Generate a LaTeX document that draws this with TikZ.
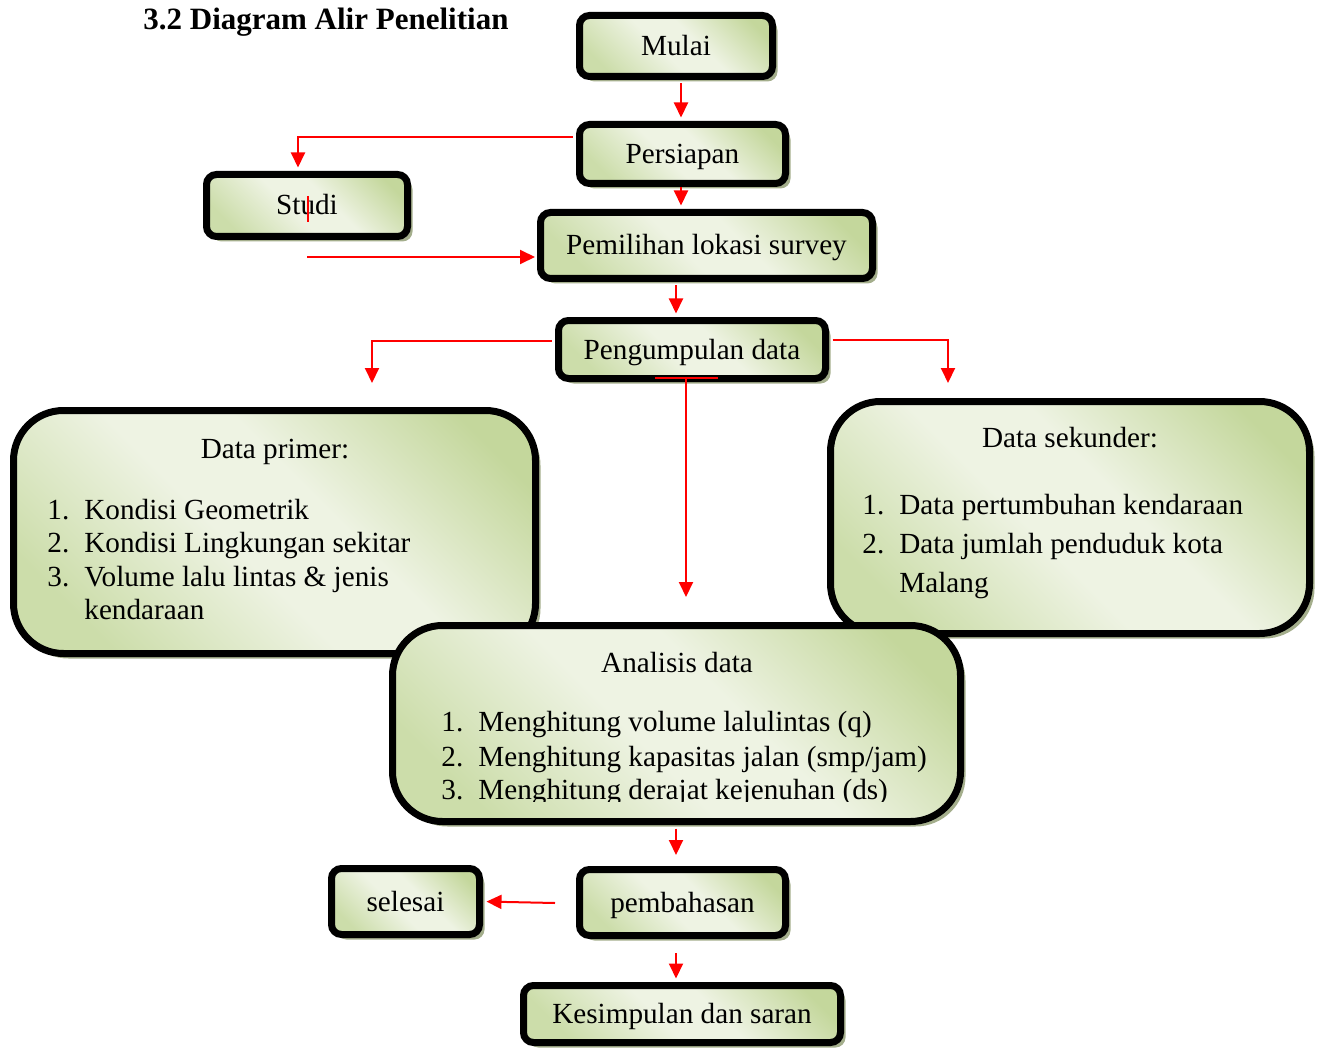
\documentclass[tikz,border=0pt]{standalone}
\usepackage{fontspec}
\setmainfont{Liberation Serif}
\usetikzlibrary{shadows,arrows.meta}
\definecolor{gA}{HTML}{C4D79C}
\definecolor{gB}{HTML}{CCDDAA}
\definecolor{gL}{HTML}{EEF3E3}
\definecolor{shd}{HTML}{A4AE8C}
\definecolor{rd}{HTML}{FF0000}
\pgfdeclarehorizontalshading{greenband}{100bp}{color(0bp)=(gB); color(24bp)=(gB); color(45bp)=(gL); color(57bp)=(gL); color(78bp)=(gA); color(100bp)=(gA)}
\newcommand\bodyfont{\fontsize{14.6}{18}\selectfont}
\newcommand\num[1]{\makebox[18.5pt][l]{#1}}
\begin{document}
\begin{tikzpicture}[x=0.5pt,y=-0.5pt,
  box/.style={draw=black, line width=3.5pt, rounded corners=5pt, shading=greenband, shading angle=45,
    drop shadow={shadow xshift=2.5pt, shadow yshift=-2.5pt, fill=shd, opacity=1},
    font=\bodyfont, inner sep=0pt, text height=10.5pt, text depth=1pt},
  bigbox/.style={box, rounded corners=25pt},
  txt/.style={font=\bodyfont, inner sep=0pt},
  conn/.style={draw=rd, line width=1pt, -{Triangle[width=7pt,length=7.5pt]}},
  plain/.style={draw=rd, line width=1pt},
  sh/.style={shorten <=1.75pt, shorten >=1.75pt}
]
\useasboundingbox (0,0) rectangle (1317,1048);

\node[txt, anchor=base west, font=\fontsize{15.5}{18}\selectfont\bfseries] (title) at (143,30) {3.2 Diagram Alir Penelitian};

% boxes
\node[box, minimum width=96.5pt, minimum height=30.5pt] (mulai) at (676,46) {Mulai};
\node[box, minimum width=103pt, minimum height=29.5pt] (persiapan) at (682.5,154) {Persiapan};
\node[box, minimum width=100.5pt, minimum height=31pt] (studi) at (307,205.5) {Studi};
\node[box, minimum width=166pt, minimum height=33pt] (pemilihan) at (706.5,245.5) {Pemilihan lokasi survey};
\node[box, minimum width=133.5pt, minimum height=29pt] (pengumpulan) at (692,349.5) {Pengumpulan data};

\node[bigbox, minimum width=261pt, minimum height=121.5pt] (primer) at (274.5,532) {};
\node[txt, anchor=base] (dp0) at (275,458) {Data primer:};
\node[txt, anchor=base west] (dp1) at (47,519) {\num{1.}Kondisi Geometrik};
\node[txt, anchor=base west] (dp2) at (47,552) {\num{2.}Kondisi Lingkungan sekitar};
\node[txt, anchor=base west] (dp3) at (47,586) {\num{3.}Volume lalu lintas \& jenis};
\node[txt, anchor=base west] (dp4) at (84,619) {kendaraan};

\node[bigbox, minimum width=239.5pt, minimum height=116pt] (sekunder) at (1070,517.5) {};
\node[txt, anchor=base] (ds0) at (1070,447) {Data sekunder:};
\node[txt, anchor=base west] (ds1) at (862,514) {\num{1.}Data pertumbuhan kendaraan};
\node[txt, anchor=base west] (ds2) at (862,553) {\num{2.}Data jumlah penduduk kota};
\node[txt, anchor=base west] (ds3) at (899,592) {Malang};

\node[bigbox, minimum width=284pt, minimum height=98pt] (analisis) at (676.5,723.5) {};
\node[txt, anchor=base] (da0) at (677,672) {Analisis data};
\node[txt, anchor=base west] (da1) at (441,731) {\num{1.}Menghitung volume lalulintas (q)};
\node[txt, anchor=base west] (da2) at (441,766) {\num{2.}Menghitung kapasitas jalan (smp/jam)};
\begin{scope}
\clip (400,700) rectangle (960,801);
\node[txt, anchor=base west] (da3) at (441,799) {\num{3.}Menghitung derajat kejenuhan (ds)};
\end{scope}

\node[box, minimum width=74pt, minimum height=33pt] (selesai) at (405.5,901.5) {selesai};
\node[box, minimum width=103pt, minimum height=33pt] (pembahasan) at (682.5,902.5) {pembahasan};
\node[box, minimum width=158.5pt, minimum height=28.5pt] (kesimpulan) at (682,1014) {Kesimpulan dan saran};

% free-end coordinates
\coordinate (s1) at (307,257);
\coordinate (st1) at (308,196);
\coordinate (st2) at (308,222);
\coordinate (pl) at (372,383);
\coordinate (pr) at (948,383);
\coordinate (pb1) at (655,378);
\coordinate (pb2) at (718,378);
\coordinate (pbm) at (686,378);
\coordinate (pa) at (686,597);
\coordinate (ae) at (676,855);
\coordinate (p1) at (555,903);
\coordinate (k1) at (676,953);

% connectors
\draw[conn, sh] (mulai.south -| 681,0) -- (persiapan.north -| 681,0);
\draw[conn, shorten <=0pt, shorten >=1.75pt] (persiapan.south -| 681,0) -- (pemilihan.north -| 681,0);
\draw[conn, sh] (persiapan.west |- 0,137) -| (298,0 |- studi.north);
\draw[draw=rd, line width=0.6pt] (st1) -- (st2);
\draw[conn, shorten >=1pt] (s1) -- (s1 -| pemilihan.west);
\draw[conn, sh] (676,0 |- pemilihan.south) -- (676,0 |- pengumpulan.north);
\draw[conn, shorten <=1.75pt] (pengumpulan.west |- 0,341) -| (pl);
\draw[conn, shorten <=1.75pt] (pengumpulan.east |- 0,340) -| (pr);
\draw[plain] (pb1) -- (pb2);
\draw[conn] (pbm) -- (pa);
\draw[conn, shorten <=1.75pt] (676,0 |- analisis.south) -- (ae);
\draw[conn, shorten >=1.75pt] (p1) -- (selesai.east);
\draw[conn, shorten >=1.75pt] (k1) -- (676,0 |- kesimpulan.north);
\end{tikzpicture}
\end{document}
